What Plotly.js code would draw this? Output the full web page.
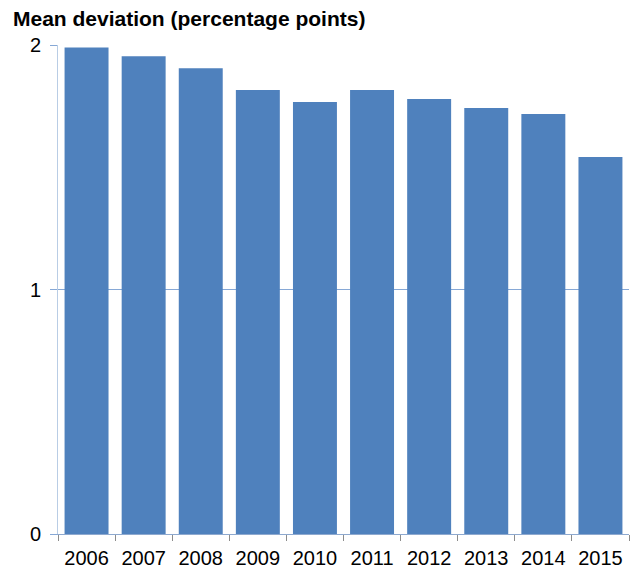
<!DOCTYPE html>
<html>
<head>
<meta charset="utf-8">
<script src="https://cdn.plot.ly/plotly-3.0.1.min.js"></script>
<style>html,body{margin:0;padding:0;background:#fff;}#chart{width:635px;height:571px;}</style>
</head>
<body>
<div id="chart"></div>
<script>
const years = ['2006','2007','2008','2009','2010','2011','2012','2013','2014','2015'];
const meanDeviation = [1.99, 1.954, 1.905, 1.816, 1.767, 1.816, 1.779, 1.742, 1.718, 1.542];
const yTicks = [0, 1, 2];
const titleText = 'Mean deviation (percentage points)';

const W = 635, H = 571;
const m = {l: 58, r: 6, t: 45, b: 37};
const pw = W - m.l - m.r, ph = H - m.t - m.b;

Plotly.newPlot('chart', [{
  type: 'bar',
  x: years,
  y: meanDeviation,
  marker: {color: '#4F81BD', line: {width: 0}},
  hoverinfo: 'none'
}], {
  width: W, height: H,
  margin: m,
  paper_bgcolor: '#ffffff',
  plot_bgcolor: '#ffffff',
  bargap: 0.23,
  showlegend: false,
  font: {family: 'Liberation Sans, Arial, sans-serif', color: '#000000'},
  xaxis: {
    type: 'category',
    showline: true, linecolor: '#8EA9CF', linewidth: 1,
    ticks: 'outside', tickson: 'boundaries', ticklen: 6, tickcolor: '#8C8C8C', tickwidth: 1,
    tickfont: {size: 20, color: '#000000'},
    ticklabelstandoff: 6,
    showgrid: false, zeroline: false,
    fixedrange: true
  },
  yaxis: {
    range: [0, 2],
    tickvals: yTicks,
    ticktext: yTicks.map(String),
    showline: true, linecolor: '#B9CDE5', linewidth: 1,
    ticks: 'outside', ticklen: 7, tickcolor: '#86A8D6', tickwidth: 1,
    tickfont: {size: 20, color: '#000000'},
    ticklabelstandoff: 5,
    showgrid: true, gridcolor: '#86A8D6', gridwidth: 1,
    zeroline: false,
    fixedrange: true
  },
  annotations: [{
    text: '<b>' + titleText + '</b>',
    xref: 'paper', yref: 'paper',
    x: (11 - m.l) / pw, y: 1 + (m.t - 18) / ph,
    xanchor: 'left', yanchor: 'middle',
    showarrow: false,
    font: {size: 21, color: '#000000', family: 'Liberation Sans, Arial, sans-serif'}
  }]
}, {displayModeBar: false, staticPlot: true});
</script>
</body>
</html>
